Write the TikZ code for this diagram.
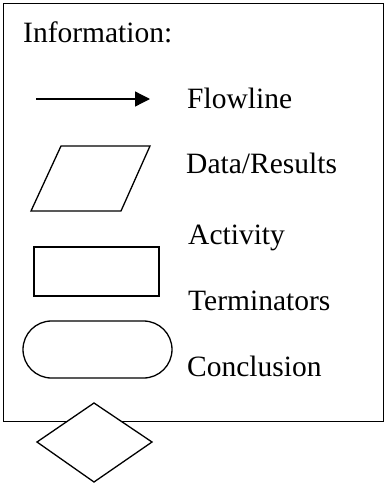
\documentclass[tikz,border=0pt]{standalone}
\usepackage{fontspec}
\setmainfont{Liberation Serif}
\usetikzlibrary{arrows.meta}
\begin{document}
\begin{tikzpicture}[x=1pt,y=-1pt,
  lbl/.style={anchor=base west,inner sep=0pt,font=\fontsize{29.5}{34}\selectfont},
  shp/.style={draw=black,line width=1.3pt,line join=miter},
  frame/.style={draw=black,line width=1.6pt}]
\useasboundingbox (0,0) rectangle (385,485);
\draw[frame] (3.5,3.5) rectangle (383.5,421.5);
\node[lbl] (info) at (23,42) {Information:};
% flowline
\coordinate (fa) at (36,99);
\coordinate (fb) at (150,99);
\draw[line width=1.3pt,-{Triangle[length=15pt,width=15pt]}] (fa) -- (fb);
\node[lbl] (flow) at (187,108) {Flowline};
% data/results
\draw[shp] (61,146) -- (150,146) -- (121,211) -- (31,211) -- cycle;
\node[lbl] (data) at (186,173) {Data/Results};
% activity
\node[lbl] (act) at (188,244) {Activity};
\draw[shp] (34,247) rectangle (159,296);
\node[lbl] (term) at (188,310) {Terminators};
% conclusion
\draw[shp,rounded corners=28.5pt] (23,321) rectangle (172,378);
\node[lbl] (conc) at (187,376) {Conclusion};
% diamond
\draw[shp,fill=white] (94,403) -- (152,442) -- (94,482) -- (37,442) -- cycle;
\end{tikzpicture}
\end{document}
